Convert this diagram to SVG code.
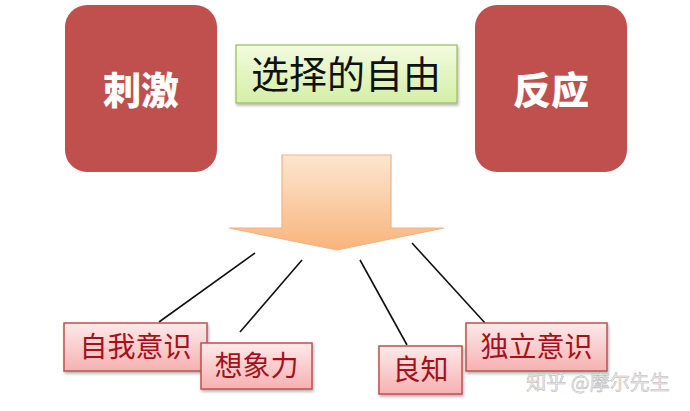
<svg xmlns="http://www.w3.org/2000/svg" width="690" height="411" viewBox="0 0 690 411">
<style>
.big{font-family:"Noto Sans CJK SC","Noto Sans",sans-serif;font-weight:900;font-size:38px;fill:#ffffff;text-anchor:middle}
.red{fill:#c0504d}
.lbl{font-family:"Noto Sans CJK SC","Noto Sans",sans-serif;font-size:28px;fill:#a5111b;text-anchor:middle}
.pink{fill:url(#pg);stroke:#c0504d;stroke-width:1.5}
.conn line{stroke:#111;stroke-width:1.6}
</style>
<defs>
<linearGradient id="pg" x1="0" y1="0" x2="0" y2="1">
<stop offset="0" stop-color="#fdeaea"/>
<stop offset="1" stop-color="#f6b1b1"/>
</linearGradient>
<linearGradient id="gg" x1="0" y1="0" x2="0" y2="1">
<stop offset="0" stop-color="#f3fbe0"/>
<stop offset="1" stop-color="#d3efa6"/>
</linearGradient>
<linearGradient id="og" x1="0" y1="0" x2="0" y2="1">
<stop offset="0" stop-color="#fde6d2"/>
<stop offset="1" stop-color="#f8b47a"/>
</linearGradient>
<filter id="sh" x="-10%" y="-10%" width="130%" height="140%">
<feDropShadow dx="1" dy="2" stdDeviation="1.5" flood-color="#000" flood-opacity="0.3"/>
</filter>
</defs>
<rect width="690" height="411" fill="#ffffff"/>
<g id="stimulus">
<rect class="red" x="65" y="5" width="152" height="167" rx="22"/>
<text class="big" x="141" y="104">刺激</text>
</g>
<g id="response">
<rect class="red" x="475" y="5" width="152" height="167" rx="22"/>
<text class="big" x="551" y="104">反应</text>
</g>
<g id="freedom">
<rect x="236" y="45" width="221" height="58" fill="url(#gg)" stroke="#9bbb59" stroke-width="1.2" filter="url(#sh)"/>
<text x="346" y="88" font-family="'Noto Sans CJK SC','Noto Sans',sans-serif" font-size="38" fill="#111" text-anchor="middle">选择的自由</text>
</g>
<g id="arrow">
<path d="M282,155 L391,155 L391,228 L444,228 L337,250 L229,228 L282,228 Z" fill="url(#og)" stroke="#f4b183" stroke-width="1.2"/>
</g>
<g class="conn" id="connectors">
<line x1="255" y1="253" x2="159" y2="322"/>
<line x1="302" y1="260" x2="240" y2="332"/>
<line x1="360" y1="260" x2="407" y2="345"/>
<line x1="412" y1="243" x2="485" y2="323"/>
</g>
<g id="self-awareness">
<rect class="pink" x="64" y="323" width="143" height="48" filter="url(#sh)"/>
<text class="lbl" x="135.5" y="357">自我意识</text>
</g>
<g id="imagination">
<rect class="pink" x="201" y="343" width="111" height="46" filter="url(#sh)"/>
<text class="lbl" x="256.5" y="376">想象力</text>
</g>
<g id="conscience">
<rect class="pink" x="379" y="346" width="83" height="48" filter="url(#sh)"/>
<text class="lbl" x="420.5" y="380">良知</text>
</g>
<g id="independent-will">
<rect class="pink" x="466" y="323" width="141" height="48" filter="url(#sh)"/>
<text class="lbl" x="536.5" y="357">独立意识</text>
</g>
<text x="598" y="390" font-family="'Noto Sans CJK SC','Noto Sans',sans-serif" font-size="20" fill="#eeeeee" stroke="#b5b5b5" stroke-width="0.5" text-anchor="middle">知乎 @摩尔先生</text>
</svg>
